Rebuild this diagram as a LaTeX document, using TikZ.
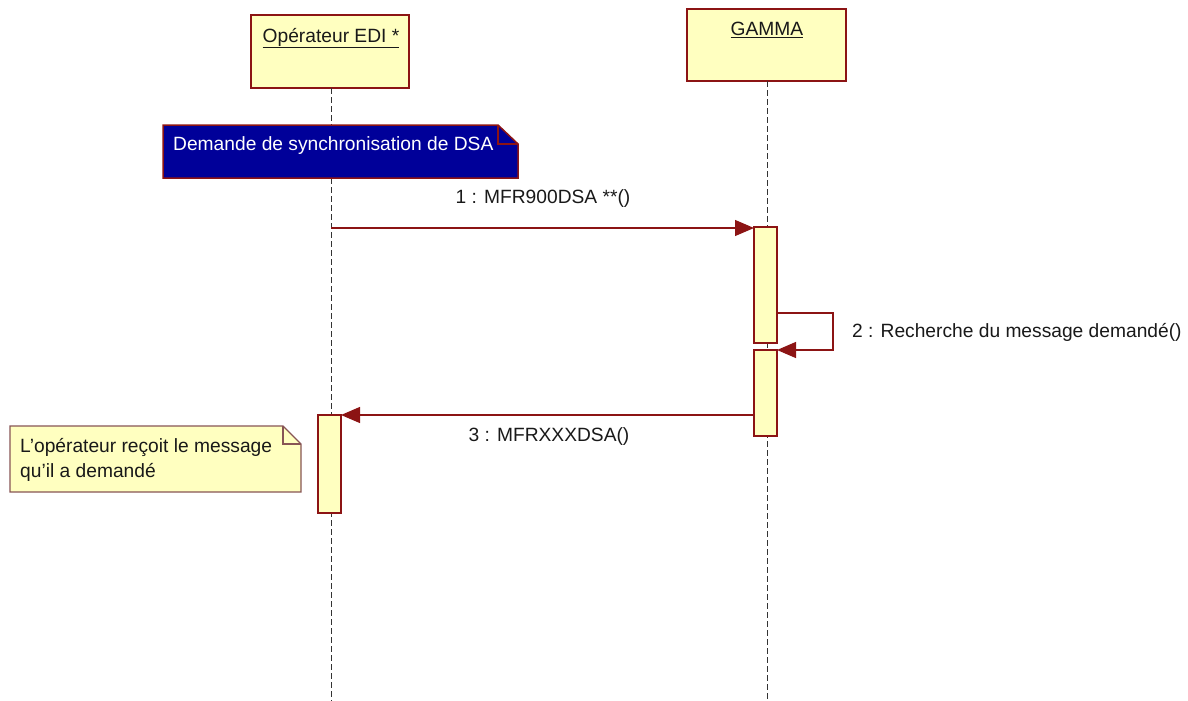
\documentclass[tikz,border=0pt]{standalone}
\usepackage{fontspec}
\setmainfont{Liberation Sans}
\usetikzlibrary{arrows.meta}
\definecolor{umlyellow}{RGB}{255,255,192}
\definecolor{umlred}{RGB}{140,20,20}
\definecolor{umlblue}{RGB}{0,0,153}
\tikzset{
  objbox/.style={draw=umlred,line width=1.5pt,fill=umlyellow},
  actbox/.style={draw=umlred,line width=1.2pt,fill=umlyellow},
  lifeline/.style={draw=black!80,line width=0.9pt,dash pattern=on 6pt off 3pt},
  msg/.style={draw=umlred,line width=1.3pt,-{Triangle[length=19pt,width=16pt]}},
  lbl/.style={font=\fontsize{19.2}{22}\selectfont,text=black!90,inner sep=0pt}
}
\begin{document}
\begin{tikzpicture}[x=1pt,y=-1pt]
\useasboundingbox (0,0) rectangle (1188,701);
% object boxes
\draw[objbox] (251,15) rectangle (409,88);
\node[lbl] (op) at (331,38) {\underline{Opérateur EDI *}};
\draw[objbox] (687,9) rectangle (846,81);
\node[lbl] (ga) at (767,30) {\underline{GAMMA}};
\coordinate (opb) at (331,88);
\coordinate (opend) at (331,701);
\coordinate (gab) at (767,81);
\coordinate (gaend) at (767,701);
\draw[lifeline] (opb) -- (opend);
\draw[lifeline] (gab) -- (gaend);
% blue note
\filldraw[draw=umlred,line width=1.5pt,fill=umlblue] (163,125) -- (498,125) -- (518,144) -- (518,178) -- (163,178) -- cycle;
\draw[umlred,line width=1.5pt] (498,125) -- (498,144) -- (518,144);
\node[lbl,text=white,anchor=west] (dn) at (173,146) {Demande de synchronisation de DSA};
% activations
\draw[actbox] (754,227) rectangle (777,343);
\draw[actbox] (754,350) rectangle (777,436);
\draw[actbox] (318,415) rectangle (341,513);
% message 1
\coordinate (m1s) at (331,228);
\coordinate (m1e) at (754,228);
\draw[msg] (m1s) -- (m1e);
\node[lbl] (l1) at (543,199) {1 : MFR900DSA **()};
% self message
\coordinate (m2s) at (777,313);
\coordinate (m2e) at (777,350);
\draw[msg] (m2s) -- (833,313) -- (833,350) -- (m2e);
\node[lbl,anchor=west] (l2) at (852,332) {2 : Recherche du message demandé()};
% message 3
\coordinate (m3s) at (754,415);
\coordinate (m3e) at (341,415);
\draw[msg] (m3s) -- (m3e);
\node[lbl] (l3) at (549,437) {3 : MFRXXXDSA()};
% yellow note
\filldraw[draw=umlred!60!black!70,line width=1.2pt,fill=umlyellow] (10,426) -- (283,426) -- (301,444) -- (301,492) -- (10,492) -- cycle;
\draw[umlred!60!black!70,line width=1.2pt] (283,426) -- (283,444) -- (301,444);
\node[lbl,anchor=west,align=left] (yn) at (20,460) {L'opérateur reçoit le message\\[3pt]qu'il a demandé};
\end{tikzpicture}
\end{document}
